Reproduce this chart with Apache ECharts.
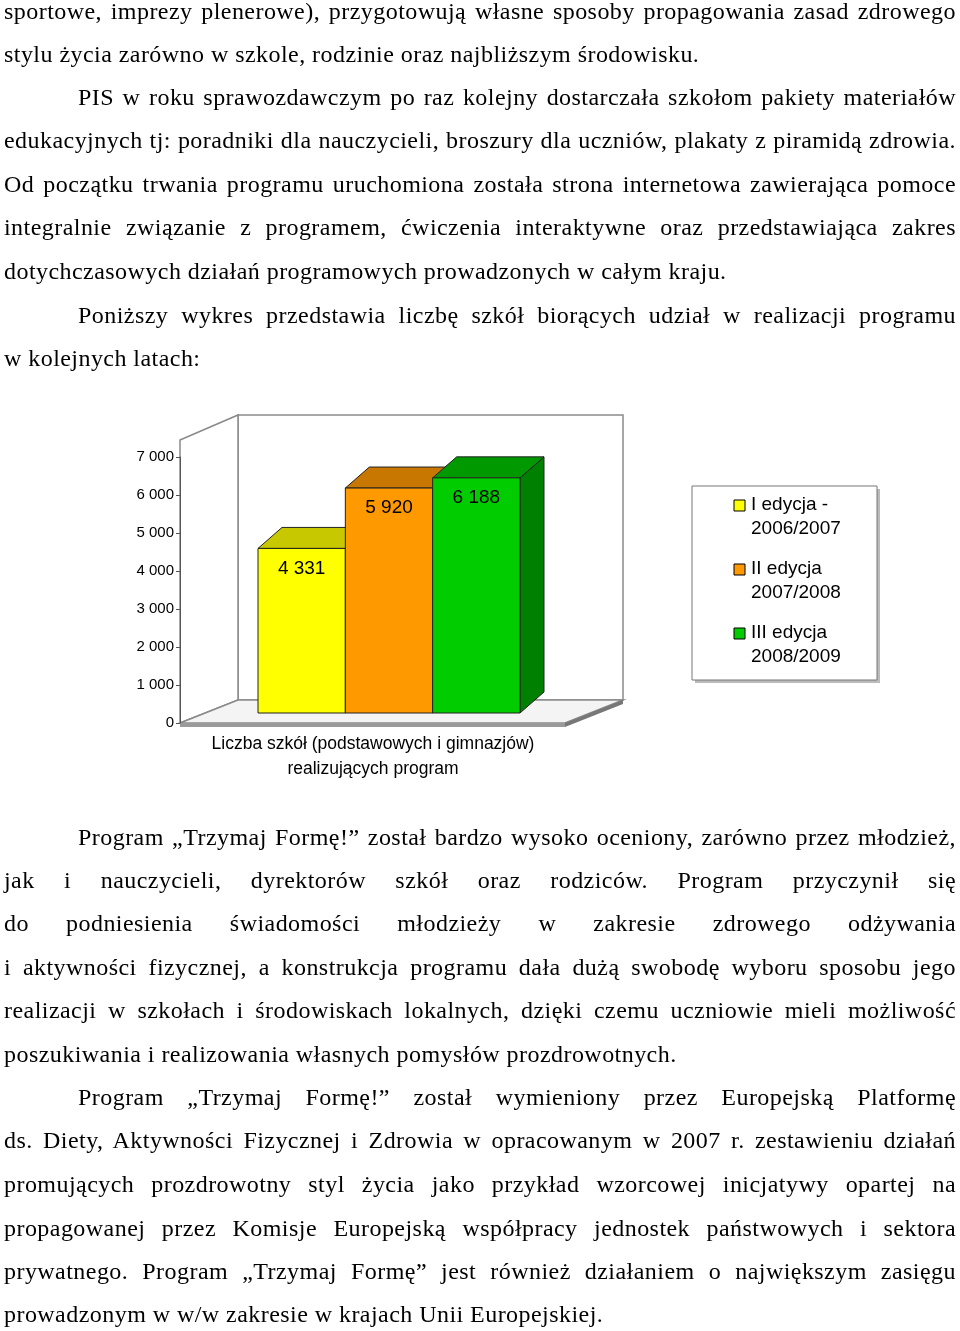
<!DOCTYPE html>
<html><head><meta charset="utf-8">
<script src="https://cdn.jsdelivr.net/npm/echarts@6/dist/echarts.min.js"></script>
<style>
body{margin:0;width:960px;height:1331px;background:#fff;position:relative;overflow:hidden}
#chart{position:absolute;left:0;top:0;width:960px;height:1331px}
.ln{position:absolute;font-family:"Liberation Serif","Times New Roman",serif;font-size:24px;letter-spacing:0.45px;line-height:28px;color:#000;white-space:nowrap;right:4px}
.j{text-align:justify;text-align-last:justify;white-space:normal}
</style></head><body>
<div id="chart"></div>
<div id="txt"></div>
<script>
// tekst strony
var linieGora = [
  [0,'sportowe, imprezy plenerowe), przygotowują własne sposoby propagowania zasad zdrowego',1],
  [0,'stylu życia zarówno w szkole, rodzinie oraz najbliższym środowisku.',0],
  [1,'PIS w roku sprawozdawczym po raz kolejny dostarczała szkołom pakiety materiałów',1],
  [0,'edukacyjnych tj: poradniki dla nauczycieli, broszury dla uczniów, plakaty z piramidą zdrowia.',1],
  [0,'Od początku trwania programu uruchomiona została strona internetowa zawierająca pomoce',1],
  [0,'integralnie związanie z programem, ćwiczenia interaktywne oraz przedstawiająca zakres',1],
  [0,'dotychczasowych działań programowych prowadzonych w całym kraju.',0],
  [1,'Poniższy wykres przedstawia liczbę szkół biorących udział w realizacji programu',1],
  [0,'w kolejnych latach:',0]
];
var yGora = [12,55,98,141,185,228,272,316,359];
var linieDol = [
  [1,'Program „Trzymaj Formę!” został bardzo wysoko oceniony, zarówno przez młodzież,',1],
  [0,'jak i nauczycieli, dyrektorów szkół oraz rodziców. Program przyczynił się',1],
  [0,'do podniesienia świadomości młodzieży w zakresie zdrowego odżywania',1],
  [0,'i aktywności fizycznej, a konstrukcja programu dała dużą swobodę wyboru sposobu jego',1],
  [0,'realizacji w szkołach i środowiskach lokalnych, dzięki czemu uczniowie mieli możliwość',1],
  [0,'poszukiwania i realizowania własnych pomysłów prozdrowotnych.',0],
  [1,'Program „Trzymaj Formę!” został wymieniony przez Europejską Platformę',1],
  [0,'ds. Diety, Aktywności Fizycznej i Zdrowia w opracowanym w 2007 r. zestawieniu działań',1],
  [0,'promujących prozdrowotny styl życia jako przykład wzorcowej inicjatywy opartej na',1],
  [0,'propagowanej przez Komisje Europejską współpracy jednostek państwowych i sektora',1],
  [0,'prywatnego. Program „Trzymaj Formę” jest również działaniem o największym zasięgu',1],
  [0,'prowadzonym w w/w zakresie w krajach Unii Europejskiej.',0]
];
var yDol = [838,881,924,968,1011,1055,1098,1141,1185,1229,1272,1315];

function wypisz(linie, ys){
  var html = '';
  linie.forEach(function(l, i){
    html += '<div class="ln' + (l[2] ? ' j' : '') + '" style="left:' + (l[0] ? 78 : 4) + 'px;top:' + (ys[i]-15) + 'px">' + l[1] + '</div>';
  });
  document.getElementById('txt').innerHTML += html;
}
wypisz(linieGora, yGora);
wypisz(linieDol, yDol);

// dane wykresu
var edycje = ['I edycja - 2006/2007', 'II edycja 2007/2008', 'III edycja 2008/2009'];
var liczbaSzkol = [4331, 5920, 6188];
var etykietySlupkow = ['4 331', '5 920', '6 188'];
var etykietyOsi = ['0','1 000','2 000','3 000','4 000','5 000','6 000','7 000'];
var koloryPrzod = ['#ffff00', '#ff9900', '#00cc00'];
var koloryGora = ['#c8c800', '#c87800', '#009a00'];
var koloryBok = ['#a0a000', '#c06a00', '#008000'];

var dx = 24, dy = -21;
function renderBar(params, api){
  var i = api.value(0);
  var p0 = api.coord([i, 0]);
  var p1 = api.coord([i, api.value(1)]);
  var w = api.size([1, 0])[0];
  var x0 = p0[0] - w / 2, x1 = x0 + w, yb = p0[1], yt = p1[1];
  var ln = {stroke: '#222', lineWidth: 1};
  return {type: 'group', children: [
    {type: 'polygon', shape: {points: [[x1,yt],[x1+dx,yt+dy],[x1+dx,yb+dy],[x1,yb]]}, style: Object.assign({fill: koloryBok[i]}, ln)},
    {type: 'polygon', shape: {points: [[x0,yt],[x0+dx,yt+dy],[x1+dx,yt+dy],[x1,yt]]}, style: Object.assign({fill: koloryGora[i]}, ln)},
    {type: 'rect', shape: {x: x0, y: yt, width: w, height: yb - yt}, style: Object.assign({fill: koloryPrzod[i]}, ln)},
    {type: 'text', x: x0 + w / 2, y: yt + 20, style: {text: etykietySlupkow[i], fill: '#000', font: '19px Arial, "Liberation Sans"', align: 'center', verticalAlign: 'middle'}}
  ]};
}

var legenda = [];
edycje.forEach(function(e, i){
  var y = 505 + i * 64;
  var cz = e.split(/ (?=\d)/);
  legenda.push({type: 'rect', shape: {x: 734, y: y - 5, width: 11, height: 11}, style: {fill: koloryPrzod[i], stroke: '#000', lineWidth: 1}});
  legenda.push({type: 'text', x: 751, y: y - 12, style: {text: cz[0] + '\n' + cz[1], fill: '#000', font: '19px Arial, "Liberation Sans"', lineHeight: 24, verticalAlign: 'top'}});
});

var chart = echarts.init(document.getElementById('chart'));
chart.setOption({
  animation: false,
  grid: [
    {left: 180, top: 457, width: 385, height: 266},
    {left: 258, top: 447, width: 262, height: 266}
  ],
  xAxis: [
    {gridIndex: 0, type: 'value', min: 0, max: 1, show: false},
    {gridIndex: 1, type: 'category', data: edycje, show: false}
  ],
  yAxis: [
    {gridIndex: 0, type: 'value', min: 0, max: 7000, interval: 1000,
     axisLine: {show: true, lineStyle: {color: '#555'}},
     axisTick: {show: true, length: 4, lineStyle: {color: '#555'}},
     splitLine: {show: false},
     axisLabel: {margin: 6, color: '#000', fontSize: 15, fontFamily: 'Arial, "Liberation Sans"',
       formatter: function(v){ return etykietyOsi[v / 1000]; }}},
    {gridIndex: 1, type: 'value', min: 0, max: 7000, show: false}
  ],
  graphic: [
    {type: 'polygon', z: -1, shape: {points: [[238,415],[623,415],[623,700],[238,700]]}, style: {fill: '#fff', stroke: '#8a8a8a', lineWidth: 1.5}},
    {type: 'polygon', z: -1, shape: {points: [[180,440],[238,415],[238,700],[180,723]]}, style: {fill: '#fff', stroke: '#8a8a8a', lineWidth: 1.5}},
    {type: 'polygon', z: -1, shape: {points: [[180,723],[238,700],[623,700],[565,723]]}, style: {fill: '#f4f4f4', stroke: '#8a8a8a', lineWidth: 1.5}},
    {type: 'polygon', z: -1, shape: {points: [[180,723],[565,723],[565,727],[180,727]]}, style: {fill: '#9a9a9a'}},
    {type: 'polygon', z: -1, shape: {points: [[565,723],[623,700],[623,704],[565,727]]}, style: {fill: '#777'}},
    {type: 'text', x: 373, y: 744, style: {text: 'Liczba szkół (podstawowych i gimnazjów)', fill: '#000', font: '17.5px Arial, "Liberation Sans"', align: 'center', verticalAlign: 'middle'}},
    {type: 'text', x: 373, y: 769, style: {text: 'realizujących program', fill: '#000', font: '17.5px Arial, "Liberation Sans"', align: 'center', verticalAlign: 'middle'}},
    {type: 'rect', shape: {x: 695, y: 489, width: 185, height: 194}, style: {fill: '#bbb'}},
    {type: 'rect', shape: {x: 692, y: 486, width: 185, height: 194}, style: {fill: '#fff', stroke: '#777', lineWidth: 1}}
  ].concat(legenda),
  series: [{
    type: 'custom', xAxisIndex: 1, yAxisIndex: 1,
    data: liczbaSzkol.map(function(v, i){ return [i, v]; }),
    renderItem: renderBar
  }]
});
</script>
</body></html>
